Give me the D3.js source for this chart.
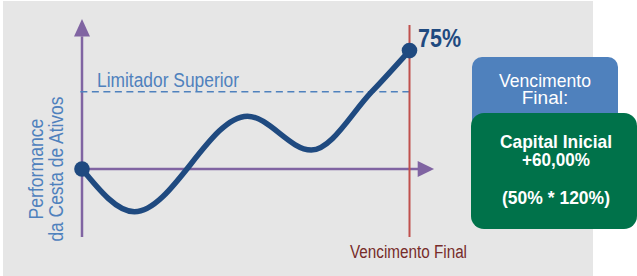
<!DOCTYPE html>
<html>
<head>
<meta charset="utf-8">
<script src="https://cdn.jsdelivr.net/npm/d3@7"></script>
<style>
  html, body { margin: 0; padding: 0; background: #ffffff; }
  svg { display: block; }
</style>
</head>
<body>
<svg id="chart"></svg>
<script>
// performance path of the basket, term in % of time, value in %
var termPoints = [0, 16, 50.5, 70, 88.5, 100];
var perfPoints = [0, -27, 33.5, 12, 49, 75];
var capLevel = 49;
var finalLabel = "75%";
var yLabelLines = ["Performance", "da Cesta de Ativos"];
var capLabel = "Limitador Superior";
var maturityLabel = "Vencimento Final";
var boxTitleLines = ["Vencimento", "Final:"];
var boxResultLines = ["Capital Inicial", "+60,00%", "", "(50% * 120%)"];

var W = 637, H = 276;
var font = "'Liberation Sans Narrow', 'Arial Narrow', 'Liberation Sans', Arial, sans-serif";

var svg = d3.select("#chart").attr("width", W).attr("height", H);

var x = d3.scaleLinear().domain([0, 100]).range([82, 409.5]);
var y = d3.scaleLinear().domain([-43, 95]).range([237, 19]);

addGroup = function(parent, id) {
    return parent.append("g").attr("id", id);
};

drawLine = function(g, color, width, x1, x2, y1, y2) {
    return g.append("line")
        .attr("x1", x1).attr("x2", x2)
        .attr("y1", y1).attr("y2", y2)
        .attr("stroke", color)
        .attr("stroke-width", width);
};

drawText = function(g, color, size, weight, tx, ty, txt, anchor, len) {
    var t = g.append("text")
        .attr("x", tx).attr("y", ty)
        .attr("fill", color)
        .attr("font-size", size)
        .attr("font-family", font)
        .attr("font-weight", weight)
        .attr("text-anchor", anchor || "start")
        .text(txt);
    if (len) t.attr("textLength", len).attr("lengthAdjust", "spacingAndGlyphs");
    return t;
};

// background panel
svg.append("rect")
    .attr("x", 3).attr("y", 1)
    .attr("width", 590).attr("height", H - 1)
    .attr("fill", "#e6e6e6");

// axes
var axes = addGroup(svg, "axes");
var purple = "#8064a2";
drawLine(axes, purple, 2.5, x(0), x(0), y(-43), y(84));
axes.append("path")
    .attr("d", "M" + (x(0) - 8) + "," + y(84) + " L" + x(0) + "," + y(95) + " L" + (x(0) + 8) + "," + y(84) + " Z")
    .attr("fill", purple);
drawLine(axes, purple, 2.5, x(0), x(103), y(0), y(0));
axes.append("path")
    .attr("d", "M" + x(102.5) + "," + (y(0) - 8) + " L" + x(107.5) + "," + y(0) + " L" + x(102.5) + "," + (y(0) + 8) + " Z")
    .attr("fill", purple);

// cap level
var cap = addGroup(svg, "cap");
drawLine(cap, "#4f81bd", 1.5, x(-0.5), x(100), y(capLevel), y(capLevel))
    .attr("stroke-dasharray", "7,4.5");
drawText(cap, "#4f81bd", 20, "normal", 97, 87, capLabel, "start", 142);

// maturity line
var mat = addGroup(svg, "maturity");
drawLine(mat, "#c0504d", 2, x(100), x(100), 25, y(-43));
drawText(mat, "#772c2a", 18, "normal", x(100) - 1, 258, maturityLabel, "middle", 117);

// y label
var yl = addGroup(svg, "ylabel").attr("transform", "translate(0," + y(0) + ") rotate(-90)");
drawText(yl, "#4f81bd", 21, "normal", 0, 43, yLabelLines[0], "middle", 101);
drawText(yl, "#4f81bd", 21, "normal", 0, 63, yLabelLines[1], "middle", 145);

// performance curve
var series = termPoints.map(function(t, i) { return { t: t, v: perfPoints[i] }; });
var curve = addGroup(svg, "curve");
var navy = "#1f4a80";
curve.append("path")
    .datum(series)
    .attr("d", d3.line()
        .x(function(d) { return x(d.t); })
        .y(function(d) { return y(d.v); })
        .curve(d3.curveMonotoneX))
    .attr("fill", "none")
    .attr("stroke", navy)
    .attr("stroke-width", 5.5)
    .attr("stroke-linecap", "round");
curve.selectAll("circle")
    .data([series[0], series[series.length - 1]])
    .enter().append("circle")
    .attr("cx", function(d) { return x(d.t); })
    .attr("cy", function(d) { return y(d.v); })
    .attr("r", 7.8)
    .attr("fill", navy);
drawText(curve, navy, 26, "bold", 418, 47, finalLabel, "start", 43);

// result boxes
var boxes = addGroup(svg, "boxes");
boxes.append("rect")
    .attr("x", 472).attr("y", 57).attr("width", 146).attr("height", 80)
    .attr("rx", 10).attr("fill", "#4f81bd");
drawText(boxes, "#ffffff", 19, "normal", 545, 87, boxTitleLines[0], "middle", 92);
drawText(boxes, "#ffffff", 19, "normal", 545, 104, boxTitleLines[1], "middle");
boxes.append("rect")
    .attr("x", 471).attr("y", 113).attr("width", 166).attr("height", 116)
    .attr("rx", 13).attr("fill", "#00724a");
var resY = [148, 166, 0, 204];
var resLen = [112, 68, 0, 108];
boxResultLines.forEach(function(s, i) {
    if (s) drawText(boxes, "#ffffff", 19, "bold", 556, resY[i], s, "middle", resLen[i]);
});
</script>
</body>
</html>
